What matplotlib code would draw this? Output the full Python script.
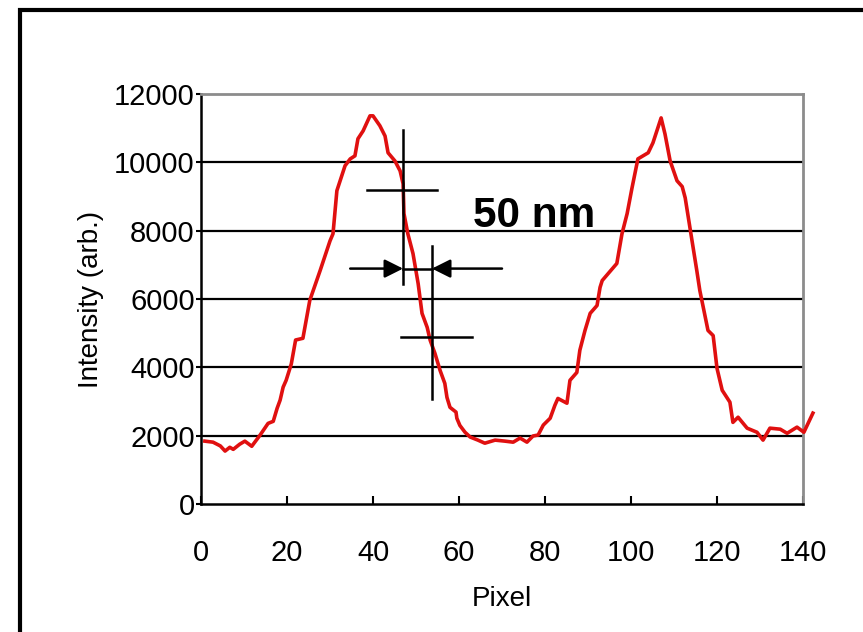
import matplotlib
matplotlib.use("Agg")
import matplotlib.pyplot as plt
from matplotlib.patches import Rectangle

plt.rcParams['font.family'] = ['Liberation Sans', 'DejaVu Sans']

# line profile (pixel, intensity)
pixel = [0.9, 2.8, 4.5, 5.6, 6.7, 7.5, 9.0, 10.2, 11.8, 13.7, 15.6, 16.8, 17.7,
         18.4, 19.1, 19.8, 21.0, 22.0, 23.7, 25.3, 27.7, 30.0, 30.7, 31.6,
         33.5, 34.7, 35.8, 36.5, 37.7, 39.3, 40.0, 41.6, 42.8, 43.5, 45.1,
         46.3, 47.0, 47.2, 48.1, 49.3, 50.5, 51.4, 52.6, 53.3, 54.4, 55.6,
         56.7, 57.2, 57.9, 59.3, 59.5, 60.2, 61.4, 62.6, 64.4, 66.0, 68.4,
         70.7, 72.6, 74.2, 75.8, 77.2, 78.4, 79.6, 81.2, 82.3, 83.0, 85.1,
         85.8, 87.4, 88.1, 89.3, 90.5, 92.1, 92.8, 93.3, 96.7, 97.9, 99.1,
         100.2, 101.6, 104.0, 105.1, 107.0, 107.9, 109.1, 110.7, 111.9,
         112.6, 113.7, 115.3, 116.0, 117.9, 119.1, 120.0, 121.2, 123.0,
         123.7, 124.9, 127.0, 129.3, 130.7, 132.3, 134.7, 136.3, 138.6,
         140.2, 142.3]
intensity = [1840, 1810, 1700, 1550, 1660, 1600, 1750, 1840, 1690, 2010, 2360,
             2420, 2800, 3040, 3420, 3620, 4100, 4800, 4850, 5960, 6830, 7700,
             7910, 9170, 9900, 10100, 10190, 10690, 10920, 11360, 11360, 11070,
             10770, 10280, 10040, 9750, 9370, 8500, 7910, 7330, 6450, 5580,
             5170, 4790, 4410, 3910, 3530, 3120, 2830, 2690, 2510, 2300, 2100,
             1960, 1870, 1780, 1870, 1840, 1810, 1930, 1810, 1990, 2020, 2310,
             2510, 2890, 3090, 2950, 3620, 3850, 4500, 5080, 5580, 5810, 6340,
             6540, 7040, 7910, 8500, 9230, 10100, 10280, 10570, 11300, 10830,
             10040, 9460, 9290, 8960, 8090, 6830, 6250, 5080, 4930, 3970, 3330,
             2980, 2390, 2540, 2220, 2100, 1870, 2220, 2190, 2070, 2250, 2100,
             2660]

x_ticks = [0, 20, 40, 60, 80, 100, 120, 140]
y_ticks = [0, 2000, 4000, 6000, 8000, 10000, 12000]

# width-measurement markers (data coords)
cut1 = dict(x=47.0, y0=6450, y1=10950, hy=9200, hx0=38.6, hx1=54.9)
cut2 = dict(x=53.7, y0=3070, y1=7560, hy=4880, hx0=46.5, hx1=63.0)
arrow_y = 6890
arrow_left_start = 34.7
arrow_right_start = 70.0
label_text = "50 nm"
label_pos = (77.4, 8440)

fig = plt.figure(figsize=(8.63, 6.32), dpi=100)
ax = fig.add_axes([0.2329, 0.2025, 0.6976, 0.6488])

ax.set_xlim(0, 140)
ax.set_ylim(0, 12000)
ax.set_xticks(x_ticks)
ax.set_yticks(y_ticks)
ax.tick_params(axis='x', direction='in', length=5.5, width=1.5, labelsize=21, pad=25)
ax.tick_params(axis='y', direction='out', length=3.5, width=1.5, labelsize=21, pad=1)

for yv in y_ticks[1:-1]:
    ax.axhline(yv, color='black', lw=1.6, zorder=1)

for side in ['left', 'bottom']:
    ax.spines[side].set_color('black')
    ax.spines[side].set_linewidth(1.8)
for side in ['top', 'right']:
    ax.spines[side].set_color('#8c8c8c')
    ax.spines[side].set_linewidth(2.0)

ax.plot(pixel, intensity, color='#e01010', lw=2.6, clip_on=False, zorder=3)

# measurement marks
for c in (cut1, cut2):
    ax.plot([c['x'], c['x']], [c['y0'], c['y1']], color='black', lw=1.8, zorder=4)
    ax.plot([c['hx0'], c['hx1']], [c['hy'], c['hy']], color='black', lw=1.8, zorder=4)
ax.plot([cut1['x'], cut2['x']], [arrow_y, arrow_y], color='black', lw=1.8, zorder=4)
ax.annotate('', xy=(cut1['x'], arrow_y), xytext=(arrow_left_start, arrow_y),
            arrowprops=dict(arrowstyle='-|>', color='black', lw=1.8,
                            mutation_scale=28, shrinkA=0, shrinkB=0), zorder=4)
ax.annotate('', xy=(cut2['x'], arrow_y), xytext=(arrow_right_start, arrow_y),
            arrowprops=dict(arrowstyle='-|>', color='black', lw=1.8,
                            mutation_scale=28, shrinkA=0, shrinkB=0), zorder=4)
ax.text(label_pos[0], label_pos[1], label_text, fontsize=30.5, fontweight='bold',
        ha='center', va='center', zorder=5)

ax.set_xlabel('Pixel', fontsize=20, labelpad=14)
ax.set_ylabel('Intensity (arb.)', fontsize=20, labelpad=7)

# outer frame around the whole chart
fig.patches.append(Rectangle((20 / 863, -0.1), 1.2, 1 - 10 / 632 + 0.1,
                             transform=fig.transFigure, fill=False,
                             edgecolor='black', lw=3))

fig.savefig('out.png', dpi=100)
